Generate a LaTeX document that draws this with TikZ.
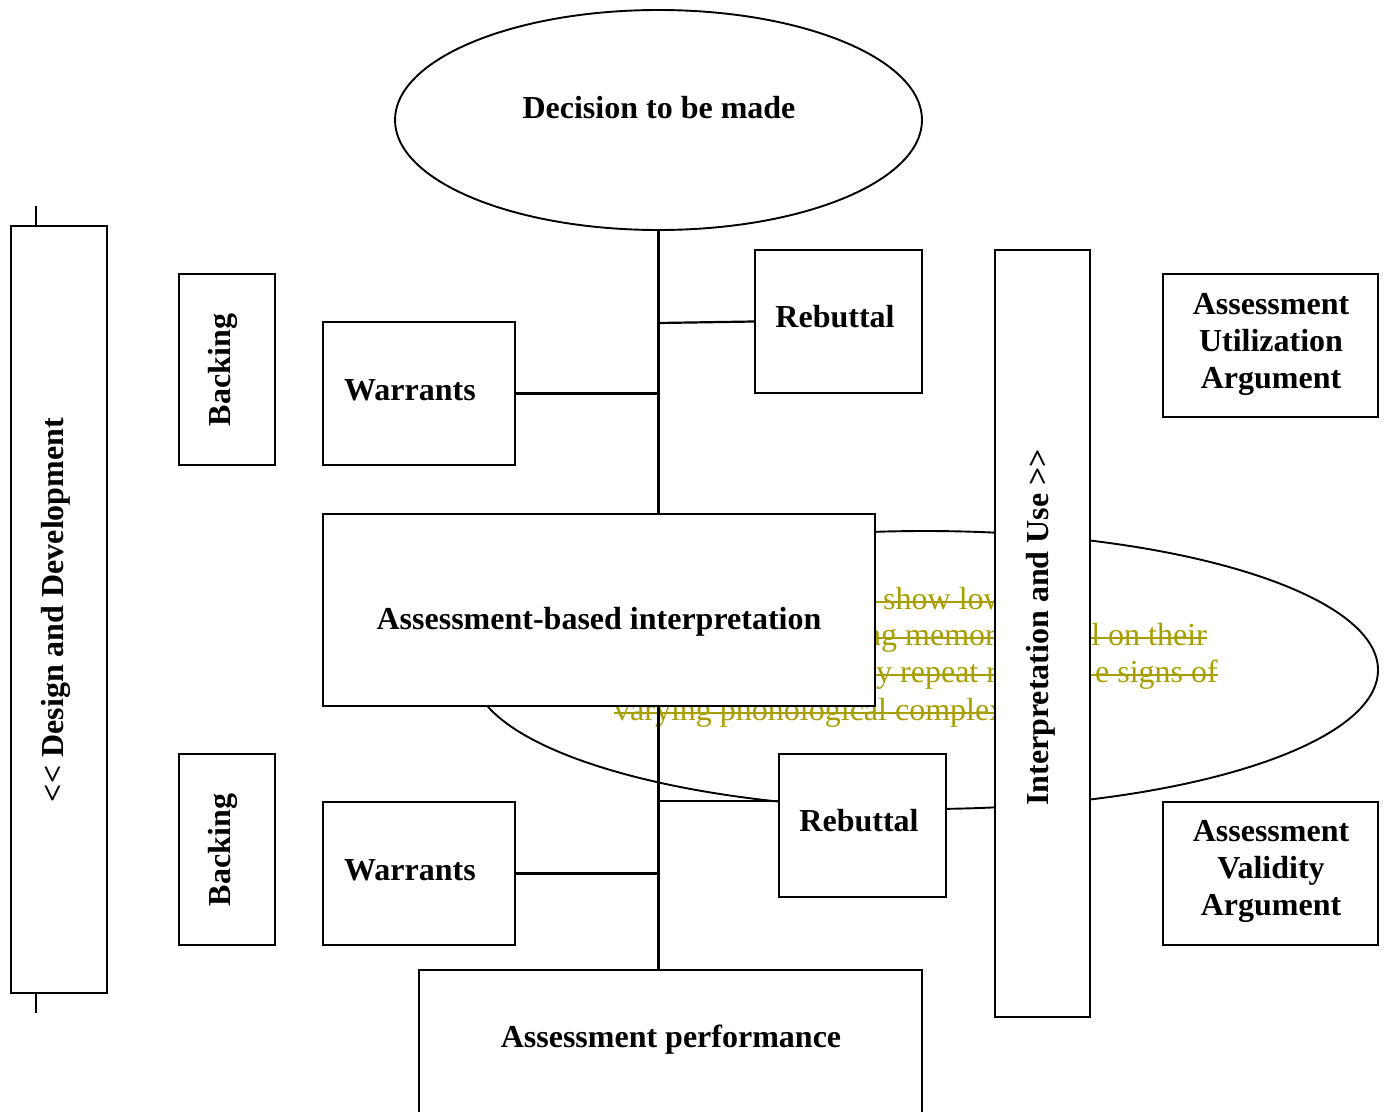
\documentclass[tikz,border=0pt]{standalone}
\usepackage{fontspec}
\setmainfont{Liberation Serif}
\usetikzlibrary{shapes.geometric}
\definecolor{olivetxt}{RGB}{168,158,0}
\begin{document}
\begin{tikzpicture}[x=1pt,y=-1pt,
  box/.style={draw, rectangle, line width=2.3pt, fill=white, inner sep=0pt},
  lbl/.style={font=\bfseries\fontsize{32}{37}\selectfont, inner sep=0pt},
  oltxt/.style={font=\fontsize{32}{37}\selectfont, text=olivetxt, inner sep=0pt},
  strike/.style={draw=olivetxt, line width=2.3pt},
  link/.style={line width=2.2pt}]
\useasboundingbox (0,0) rectangle (1389,1111);

% background ellipse with struck-out text
\node[draw, ellipse, line width=1.9pt, minimum width=906pt, minimum height=278pt, inner sep=0pt] (bg) at (925,670) {};
\node[oltxt, anchor=base west] (o1) at (883,609) {show low};
\node[oltxt, anchor=base west] (o2a) at (865,645) {ng memory};
\node[oltxt, anchor=base east] (o2b) at (1207,645) {l on their};
\node[oltxt, anchor=base west] (o3a) at (876,682) {y repeat r};
\node[oltxt, anchor=base east] (o3b) at (1218,682) {e signs of};
\node[oltxt, anchor=base west] (o4) at (614,720) {varying phonological complexity};
\draw[strike] ([xshift=-20pt,yshift=7pt]o1.base west) -- ([yshift=7pt]o1.base east);
\draw[strike] ([xshift=-10pt,yshift=7pt]o2a.base west) -- ([yshift=7pt]o2b.base east);
\draw[strike] ([xshift=-20pt,yshift=7pt]o3a.base west) -- ([yshift=7pt]o3b.base east);
\draw[strike] ([yshift=7pt]o4.base west) -- ([yshift=7pt]o4.base east);

% decision ellipse
\node[draw, ellipse, line width=1.9pt, fill=white, minimum width=527pt, minimum height=220pt, inner sep=0pt] (dec) at (658.5,120) {};
\node[lbl, anchor=base] at (659,118.5) {Decision to be made};

% boxes
\node[box, minimum width=96pt, minimum height=767pt] (design) at (59,609.5) {};
\node[box, minimum width=96pt, minimum height=191pt] (backA) at (227,369.5) {};
\node[box, minimum width=192pt, minimum height=143pt] (warrA) at (419,393.5) {};
\node[box, minimum width=167pt, minimum height=143pt] (rebA) at (838.5,321.5) {};
\node[box, minimum width=552pt, minimum height=192pt] (abi) at (599,610) {};
\node[box, minimum width=96pt, minimum height=191pt] (backB) at (227,849.5) {};
\node[box, minimum width=192pt, minimum height=143pt] (warrB) at (419,873.5) {};
\node[box, minimum width=167pt, minimum height=143pt] (rebB) at (862.5,825.5) {};
\node[box, minimum width=503pt, minimum height=170pt] (perf) at (670.5,1055) {};
\node[box, minimum width=95pt, minimum height=767pt] (iu) at (1042.5,633.5) {};
\node[box, minimum width=215pt, minimum height=143pt] (aua) at (1270.5,345.5) {};
\node[box, minimum width=215pt, minimum height=143pt] (ava) at (1270.5,873.5) {};

% labels
\node[lbl, anchor=base, rotate=90] at (63,610) {<{}< Design and Development};
\node[lbl, anchor=base, rotate=90] at (230,370) {Backing};
\node[lbl, anchor=base, rotate=90] at (230,850) {Backing};
\node[lbl, anchor=base] at (410,400.5) {Warrants};
\node[lbl, anchor=base] at (410,880.5) {Warrants};
\node[lbl, anchor=base] at (835,327.5) {Rebuttal};
\node[lbl, anchor=base] at (859,831.5) {Rebuttal};
\node[lbl, anchor=base] at (599,629.5) {Assessment-based interpretation};
\node[lbl, anchor=base] at (671,1047) {Assessment performance};
\node[lbl, anchor=base, rotate=90] at (1048,627.5) {Interpretation and Use >{}>};
\node[lbl, align=center] at (1271,344) {Assessment\\Utilization\\Argument};
\node[lbl, align=center] at (1271,871.5) {Assessment\\Validity\\Argument};

% connectors
\draw[link] (dec.south) -- (dec.south |- abi.north);
\draw[link] (dec.south |- abi.south) -- (dec.south |- perf.north);
\draw[link] (warrA.east) -- (warrA.east -| dec.south);
\draw[link] (warrB.east) -- (warrB.east -| dec.south);
\draw[link] (dec.south |- rebA.west) ++(0,1.5) -- (rebA.west);
\coordinate (rbB) at ([yshift=-48pt]rebB.north west);
\draw[link] (rbB -| dec.south) -- (rbB);
\coordinate (tkA) at (36,206);
\draw[link] (tkA) -- (tkA |- design.north);
\coordinate (tkB) at (36,1013);
\draw[link] (tkB) -- (tkB |- design.south);
\end{tikzpicture}
\end{document}
